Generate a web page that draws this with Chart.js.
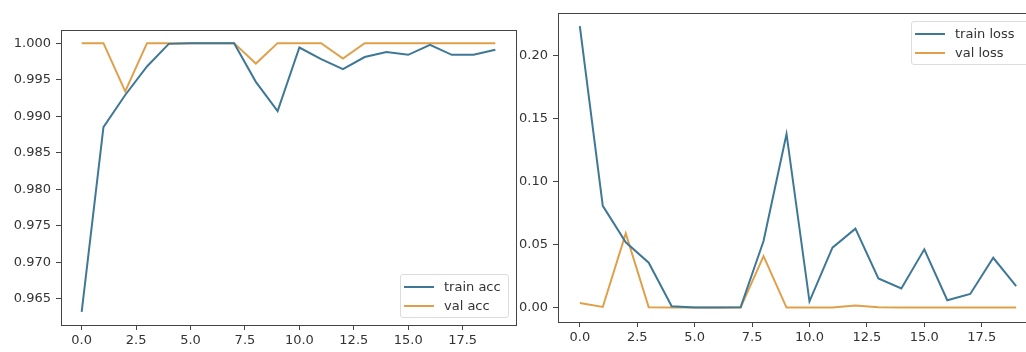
<!DOCTYPE html>
<html>
<head>
<meta charset="utf-8">
<script src="https://cdn.jsdelivr.net/npm/chart.js@4.4.0/dist/chart.umd.min.js"></script>
<style>
  html, body { margin: 0; padding: 0; background: #fff; overflow: hidden; }
  body { width: 1026px; height: 352px; position: relative; font-family: "DejaVu Sans", sans-serif; }
  .box { position: absolute; top: 0; height: 352px; }
  .legend { position: absolute; border: 1px solid #dcdcdc; border-radius: 3px; background: rgba(255,255,255,0.85);
            font-size: 13px; color: #333; padding: 2px 0; }
  .row { height: 19px; display: flex; align-items: center; white-space: nowrap; }
  .swatch { display: inline-block; width: 30px; height: 2px; margin: 0 10px 0 3px; }
</style>
</head>
<body>
<div class="box" style="left:0;width:525px"><canvas id="accChart"></canvas></div>
<div class="box" style="left:505px;width:545px"><canvas id="lossChart"></canvas></div>
<div class="legend" id="accLegend" style="left:400px;top:274px;width:107px"></div>
<div class="legend" id="lossLegend" style="left:911px;top:21px;width:140px"></div>
<script>
// epochs and values
var epochs = [0, 1, 2, 3, 4, 5, 6, 7, 8, 9, 10, 11, 12, 13, 14, 15, 16, 17, 18, 19];
var trainAcc = [0.9632, 0.9885, 0.9929, 0.9968, 0.9999, 1.0, 1.0, 1.0, 0.9947, 0.9907, 0.9994, 0.9978, 0.99645, 0.9981, 0.99877, 0.9984, 0.99977, 0.9984, 0.9984, 0.9991];
var valAcc = [1.0, 1.0, 0.9934, 1.0, 1.0, 1.0, 1.0, 1.0, 0.9972, 1.0, 1.0, 1.0, 0.9979, 1.0, 1.0, 1.0, 1.0, 1.0, 1.0, 1.0];
var trainLoss = [0.223, 0.0808, 0.052, 0.0358, 0.0013, 0.0003, 0.0003, 0.0005, 0.053, 0.1377, 0.0053, 0.0477, 0.0628, 0.0233, 0.0154, 0.0464, 0.0061, 0.0111, 0.0397, 0.0172];
var valLoss = [0.004, 0.0008, 0.059, 0.0005, 0.0003, 0.0003, 0.0003, 0.0003, 0.041, 0.0003, 0.0003, 0.0003, 0.002, 0.0005, 0.0003, 0.0003, 0.0003, 0.0003, 0.0003, 0.0003];
var xTicks = [0, 2.5, 5, 7.5, 10, 12.5, 15, 17.5];
var accTicks = [0.965, 0.970, 0.975, 0.980, 0.985, 0.990, 0.995, 1.000];
var lossTicks = [0.00, 0.05, 0.10, 0.15, 0.20];

var blue = '#3f7896';
var orange = '#e0a04a';

Chart.defaults.font.family = '"DejaVu Sans", sans-serif';
Chart.defaults.font.size = 13;
Chart.defaults.color = '#333';

function points(ys) {
    return epochs.map(function (e, i) { return { x: e, y: ys[i] }; });
}

// draw the four-sided box round the plot area
var framePlugin = {
    id: 'frame',
    afterDraw: function (chart) {
        var a = chart.chartArea, ctx = chart.ctx;
        ctx.save();
        ctx.strokeStyle = '#444';
        ctx.lineWidth = 1;
        ctx.strokeRect(Math.round(a.left) + 0.5, Math.round(a.top) + 0.5, Math.round(a.right - a.left), Math.round(a.bottom - a.top));
        ctx.restore();
    }
};

function makeChart(id, series, yMin, yMax, yTicks, digits, yWidth, xHeight, padding) {
    return new Chart(document.getElementById(id), {
        type: 'line',
        data: {
            datasets: series.map(function (s) {
                return {
                    label: s.label,
                    data: points(s.data),
                    borderColor: s.color,
                    borderWidth: 2,
                    pointRadius: 0,
                    tension: 0,
                    fill: false
                };
            })
        },
        options: {
            responsive: true,
            maintainAspectRatio: false,
            animation: false,
            layout: { padding: padding },
            plugins: { legend: { display: false }, tooltip: { enabled: false } },
            scales: {
                x: {
                    type: 'linear',
                    min: -0.95,
                    max: 19.95,
                    afterBuildTicks: function (scale) {
                        scale.ticks = xTicks.map(function (v) { return { value: v }; });
                    },
                    afterFit: function (scale) { scale.height = xHeight; },
                    grid: { drawOnChartArea: false, drawTicks: true, tickLength: 5, tickColor: '#444' },
                    border: { display: false },
                    ticks: {
                        padding: 3,
                        maxRotation: 0,
                        callback: function (v) { return v.toFixed(1); }
                    }
                },
                y: {
                    min: yMin,
                    max: yMax,
                    afterBuildTicks: function (scale) {
                        scale.ticks = yTicks.map(function (v) { return { value: v }; });
                    },
                    afterFit: function (scale) { scale.width = yWidth; },
                    grid: { drawOnChartArea: false, drawTicks: true, tickLength: 5, tickColor: '#444' },
                    border: { display: false },
                    ticks: {
                        padding: 5,
                        callback: function (v) { return v.toFixed(digits); }
                    }
                }
            }
        },
        plugins: [framePlugin]
    });
}

var accChart = makeChart('accChart',
    [{ label: 'train acc', data: trainAcc, color: blue }, { label: 'val acc', data: valAcc, color: orange }],
    0.9614, 1.0018, accTicks, 3, 61, 27, { top: 30, right: 9, left: 0, bottom: 0 });

var lossChart = makeChart('lossChart',
    [{ label: 'train loss', data: trainLoss, color: blue }, { label: 'val loss', data: valLoss, color: orange }],
    -0.0111, 0.2336, lossTicks, 2, 53, 30, { top: 12, right: 12, left: 0, bottom: 0 });

// legends inside the plot, built from the datasets
function buildLegend(chart, id) {
    var el = document.getElementById(id);
    chart.data.datasets.forEach(function (ds) {
        var row = document.createElement('div');
        row.className = 'row';
        var sw = document.createElement('span');
        sw.className = 'swatch';
        sw.style.background = ds.borderColor;
        row.appendChild(sw);
        row.appendChild(document.createTextNode(ds.label));
        el.appendChild(row);
    });
}
buildLegend(accChart, 'accLegend');
buildLegend(lossChart, 'lossLegend');
</script>
</body>
</html>
